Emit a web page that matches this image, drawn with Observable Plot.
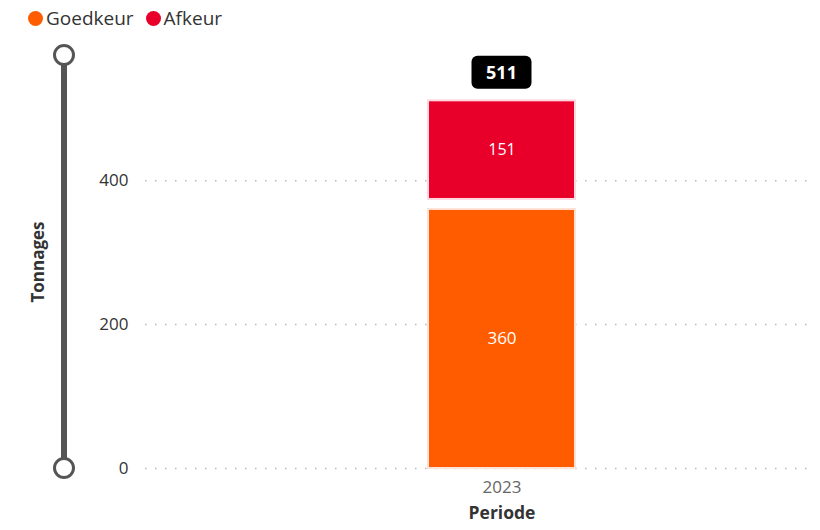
<!DOCTYPE html>
<html>
<head>
<meta charset="utf-8">
<script src="https://cdn.jsdelivr.net/npm/d3@7"></script>
<script src="https://cdn.jsdelivr.net/npm/@observablehq/plot@0.6"></script>
<style>
  body { margin: 0; background: #fff; font-family: "Open Sans", "Segoe UI", sans-serif; }
  #legend { height: 36px; display: flex; align-items: center; padding-left: 28px; font-size: 19px; color: #333; }
  .item { display: flex; align-items: center; margin-right: 12px; }
  .sw { width: 15px; height: 15px; border-radius: 50%; margin-right: 3px; }
</style>
</head>
<body>
<div id="legend"></div>
<div id="chart"></div>
<script>
const periods = ["2023"];
const series = ["Goedkeur", "Afkeur"];
const colors = ["#FF5C00", "#E8002A"];
const goedkeur = [360];
const afkeur = [151];
const yTicks = [0, 200, 400];

// stacked segments built from the arrays
const segments = [];
periods.forEach((p, i) => {
  segments.push({periode: p, type: "Goedkeur", value: goedkeur[i], y1: 0, y2: goedkeur[i]});
  segments.push({periode: p, type: "Afkeur", value: afkeur[i], y1: goedkeur[i], y2: goedkeur[i] + afkeur[i]});
});
const totals = periods.map((p, i) => ({periode: p, total: goedkeur[i] + afkeur[i]}));

const legend = document.getElementById("legend");
series.forEach((s, i) => {
  const d = document.createElement("div");
  d.className = "item";
  d.innerHTML = `<span class="sw" style="background:${colors[i]}"></span>${s}`;
  legend.appendChild(d);
});

const W = 820, H = 494;
const marginLeft = 145, marginRight = 10, marginTop = 19, marginBottom = 62;
const FONT = "'Open Sans', sans-serif";

const plot = Plot.plot({
  width: W, height: H,
  marginLeft, marginRight, marginTop, marginBottom,
  style: {fontFamily: FONT, background: "white"},
  x: {domain: periods, range: [428, 575], padding: 0},
  y: {domain: [0, 574]},
  color: {domain: series, range: colors},
  marks: [
    Plot.gridY(yTicks, {stroke: "#b8b8b8", strokeOpacity: 1, strokeDasharray: "1.5,8.5", strokeWidth: 1.5}),
    Plot.axisY(yTicks, {tickSize: 0, tickPadding: 17, fontSize: 17, fill: "#333", label: null}),
    Plot.axisX({tickSize: 0, tickPadding: 12, fontSize: 17, fill: "#666", label: null}),
    Plot.barY(segments.filter(d => d.type === "Goedkeur"), {x: "periode", y1: "y1", y2: "y2", fill: "type", stroke: "#ffe2d6", strokeWidth: 2}),
    Plot.barY(segments.filter(d => d.type === "Afkeur"), {x: "periode", y1: "y1", y2: "y2", fill: "type", stroke: "#ffd9df", strokeWidth: 2, insetBottom: 10}),
    Plot.text(segments.filter(d => d.type === "Goedkeur"), {x: "periode", y: d => (d.y1 + d.y2) / 2, text: d => String(d.value), fill: "white", fontSize: 17}),
    Plot.text(segments.filter(d => d.type === "Afkeur"), {x: "periode", y: d => (d.y1 + d.y2) / 2, text: d => String(d.value), fill: "white", fontSize: 16, dy: -5}),
    Plot.text(["Periode"], {x: periods.map(() => periods[0]), text: d => d, frameAnchor: "bottom", dy: 50, fontSize: 17.5, fontWeight: "bold", fill: "#333"}),
    Plot.text(["Tonnages"], {text: d => d, frameAnchor: "left", textAnchor: "middle", dx: -107, rotate: -90, fontSize: 17, fontWeight: "bold", fill: "#333"})
  ]
});

const svg = d3.select(plot);
const y = plot.scale("y");
const x = plot.scale("x");
const ydom = y.domain;
const yTop = y.apply(ydom[1]), yBot = y.apply(ydom[0]);
const sx = marginLeft - 81;
svg.append("line").attr("x1", sx).attr("x2", sx).attr("y1", yTop).attr("y2", yBot)
  .attr("stroke", "#555").attr("stroke-width", 6);
[yTop, yBot].forEach(cy => {
  svg.append("circle").attr("cx", sx).attr("cy", cy).attr("r", 9.5)
    .attr("fill", "white").attr("stroke", "#555").attr("stroke-width", 3);
});

totals.forEach(t => {
  const cx = x.apply(t.periode) + x.bandwidth / 2;
  const cy = y.apply(t.total) - 28;
  const g = svg.append("g");
  g.append("rect").attr("x", cx - 30).attr("y", cy - 16.5).attr("width", 60).attr("height", 33)
    .attr("rx", 6).attr("fill", "black");
  g.append("text").attr("x", cx).attr("y", cy).attr("dy", "0.35em").attr("text-anchor", "middle")
    .attr("fill", "white").attr("font-size", 18).attr("font-weight", "bold")
    .attr("font-family", FONT).text(t.total);
});

document.getElementById("chart").appendChild(plot);
</script>
</body>
</html>
